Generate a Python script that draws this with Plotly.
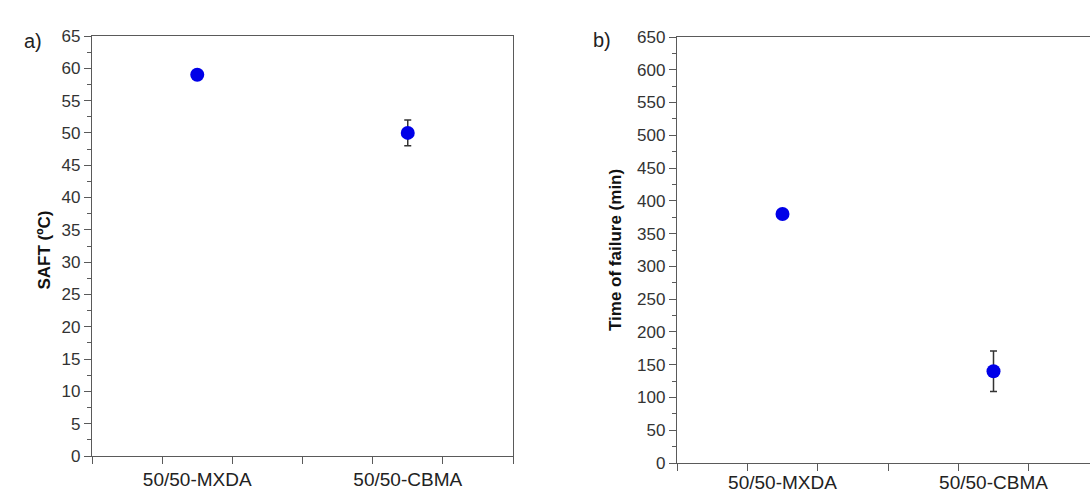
import plotly.graph_objects as go

categories = ["50/50-MXDA", "50/50-CBMA"]
saft_values = [59, 50]
saft_errors = [0.5, 2]
tof_values = [380, 140]
tof_errors = [0, 31]

W, H = 1090, 493
AX_COLOR = "#5a5a5a"
MARKER_COLOR = "#0000e8"
ERR_COLOR = "#333333"
TICK_FONT = dict(family="Liberation Sans, Arial, sans-serif", size=17, color="#333333")
XTICK_FONT = dict(family="Liberation Sans, Arial, sans-serif", size=19, color="#222222")
TITLE_FONT = dict(family="Liberation Sans, Arial, sans-serif", size=17, color="#111111")

idx = list(range(len(categories)))

fig = go.Figure()
fig.add_trace(go.Scatter(
    x=idx, y=saft_values, mode="markers",
    marker=dict(size=14, color=MARKER_COLOR),
    error_y=dict(type="data", array=saft_errors, color=ERR_COLOR, thickness=1.5, width=3.5),
    xaxis="x", yaxis="y", showlegend=False))
fig.add_trace(go.Scatter(
    x=idx, y=tof_values, mode="markers",
    marker=dict(size=14, color=MARKER_COLOR),
    error_y=dict(type="data", array=tof_errors, color=ERR_COLOR, thickness=1.5, width=3.5),
    xaxis="x2", yaxis="y2", showlegend=False))

def xax(domain, rng, mirror, standoff):
    return dict(domain=domain, range=rng, tickvals=idx, ticktext=categories, ticks="",
                minor=dict(ticks="outside", tick0=-0.5, dtick=1/3, ticklen=7,
                           tickcolor=AX_COLOR, tickwidth=1.3),
                showline=True, linecolor=AX_COLOR, linewidth=1.3, mirror=mirror,
                showgrid=False, zeroline=False, tickfont=XTICK_FONT,
                ticklabelstandoff=standoff, automargin=False, fixedrange=True)

def yax(domain, rng, dtick, mirror):
    return dict(domain=domain, range=rng, dtick=dtick, tick0=0, ticks="outside", ticklen=7,
                tickcolor=AX_COLOR, tickwidth=1.3,
                minor=dict(ticks="outside", dtick=dtick / 2, ticklen=4,
                           tickcolor=AX_COLOR, tickwidth=1.3),
                showline=True, linecolor=AX_COLOR, linewidth=1.3, mirror=mirror,
                showgrid=False, zeroline=False, tickfont=TICK_FONT,
                automargin=False, fixedrange=True)

fig.update_layout(
    width=W, height=H,
    margin=dict(l=0, r=0, t=0, b=0),
    paper_bgcolor="white", plot_bgcolor="white",
    xaxis=dict(xax([92 / W, 513 / W], [-0.5, 1.5], True, 6), anchor="y"),
    yaxis=dict(yax([37 / H, 457 / H], [0, 65], 5, True), anchor="x"),
    xaxis2=dict(xax([677 / W, 1.0], [-0.5, -0.5 + 2 * 413 / 422], True, 2), anchor="y2"),
    yaxis2=dict(yax([30 / H, 456 / H], [0, 650], 50, False), anchor="x2"),
    annotations=[
        dict(text="a)", x=22 / W, y=1 - 28 / H, xref="paper", yref="paper",
             showarrow=False, font=dict(family="Liberation Sans, Arial, sans-serif", size=20, color="#222")),
        dict(text="b)", x=602 / W, y=1 - 27 / H, xref="paper", yref="paper",
             showarrow=False, font=dict(family="Liberation Sans, Arial, sans-serif", size=20, color="#222")),
        dict(text="<b>SAFT (ºC)</b>", x=32 / W, y=1 - 250 / H, xref="paper", yref="paper",
             textangle=-90, showarrow=False, font=TITLE_FONT),
        dict(text="<b>Time of failure (min)</b>", x=615 / W, y=1 - 250 / H, xref="paper", yref="paper",
             textangle=-90, showarrow=False, font=TITLE_FONT),
    ],
)

fig.write_html("out.html")
